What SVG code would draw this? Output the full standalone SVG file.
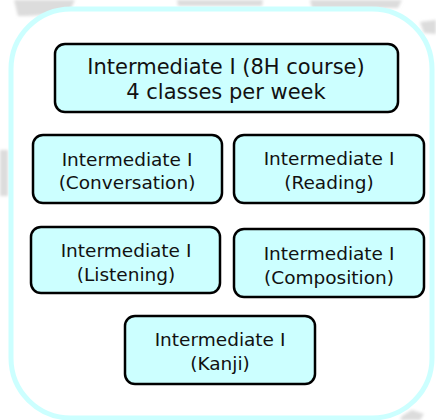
<svg xmlns="http://www.w3.org/2000/svg" width="436" height="420" viewBox="0 0 436 420">
  <defs>
    <filter id="blur" x="-20%" y="-20%" width="140%" height="140%">
      <feGaussianBlur stdDeviation="1.5"/>
    </filter>
  </defs>
  <style>
    .bg { fill: #dcdcdc; filter: url(#blur); }
    .frame { fill: #ffffff; stroke: #ccffff; stroke-width: 5; }
    .box { fill: #ccffff; stroke: #000000; stroke-width: 2.5; }
    .t { font-family: "DejaVu Sans", Verdana, sans-serif; fill: #111111; text-anchor: middle; }
    .big { font-size: 21px; }
    .small { font-size: 18.5px; }
  </style>
  <rect x="0" y="0" width="436" height="420" fill="#ffffff"/>
  <g id="background">
    <path class="bg" d="M14,0 L75,0 L70,10 C55,14 35,16 18,16 Z"/>
    <path class="bg" d="M177,0 L263,0 L262,6 L178,6 Z"/>
    <path class="bg" d="M310,0 L402,0 L398,8 L312,8 Z"/>
    <path class="bg" d="M420,22 L436,20 L436,34 L424,33 Z"/>
    <path class="bg" d="M0,150 L8,150 L8,196 L0,196 Z"/>
    <path class="bg" d="M402,416 L412,410 L424,414 L420,420 L400,420 Z"/>
  </g>
  <g id="container">
    <rect class="frame" x="11" y="9" width="421" height="409" rx="60" ry="60"/>
  </g>
  <g id="connectors"></g>
  <g id="node-main">
    <rect class="box" x="55" y="44" width="343" height="68" rx="10" ry="10"/>
    <text class="t big" x="226" y="74">Intermediate I (8H course)</text>
    <text class="t big" x="226" y="99">4 classes per week</text>
  </g>
  <g id="node-conversation">
    <rect class="box" x="33" y="135" width="189" height="68" rx="10" ry="10"/>
    <text class="t small" x="127" y="166">Intermediate I</text>
    <text class="t small" x="127" y="189">(Conversation)</text>
  </g>
  <g id="node-reading">
    <rect class="box" x="234" y="135" width="190" height="68" rx="10" ry="10"/>
    <text class="t small" x="329" y="165">Intermediate I</text>
    <text class="t small" x="329" y="189">(Reading)</text>
  </g>
  <g id="node-listening">
    <rect class="box" x="31" y="227" width="189" height="66" rx="10" ry="10"/>
    <text class="t small" x="126" y="257">Intermediate I</text>
    <text class="t small" x="126" y="281">(Listening)</text>
  </g>
  <g id="node-composition">
    <rect class="box" x="234" y="229" width="190" height="68" rx="10" ry="10"/>
    <text class="t small" x="329" y="260">Intermediate I</text>
    <text class="t small" x="329" y="284">(Composition)</text>
  </g>
  <g id="node-kanji">
    <rect class="box" x="125" y="316" width="190" height="68" rx="10" ry="10"/>
    <text class="t small" x="220" y="346">Intermediate I</text>
    <text class="t small" x="220" y="370">(Kanji)</text>
  </g>
</svg>
